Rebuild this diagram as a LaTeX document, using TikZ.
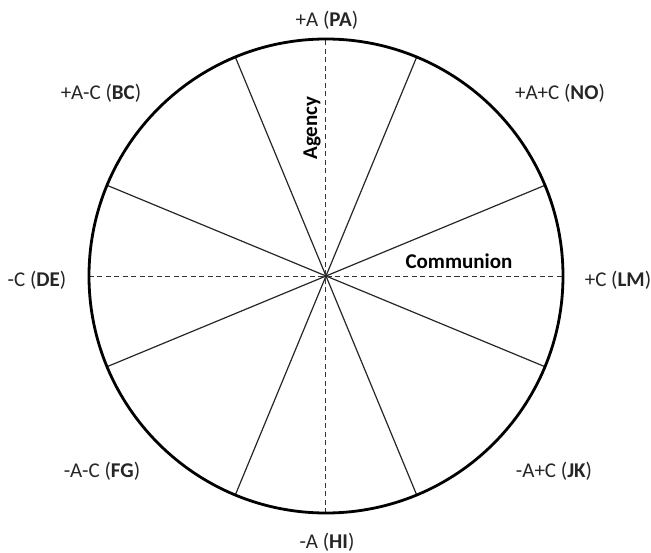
\documentclass[tikz,border=0pt]{standalone}
\usepackage{fontspec}
\setmainfont{Carlito}
\begin{document}
\begin{tikzpicture}[
  x=1pt, y=1pt,
  every node/.style={font=\fontsize{21}{24}\selectfont, text=black!85, inner sep=0pt},
  rim/.style={line width=2.8pt},
  spoke/.style={line width=1.2pt, black!85},
  axisline/.style={line width=1pt, black!80, dash pattern=on 5pt off 3.5pt},
  axislabel/.style={font=\fontsize{21}{24}\selectfont\bfseries, text=black}
]
\useasboundingbox (-326,-276) rectangle (325,276);

%--------------------------------------
% Circle, spokes and axes
%--------------------------------------
\coordinate (O) at (0,0);
\foreach \a in {22.5,67.5,...,337.5}
  \draw[spoke] (O) -- (\a:237);
\draw[axisline] (180:237) -- (0:237);
\draw[axisline] (270:237) -- (90:237);
\draw[rim] (O) circle (237);

% Axis names
\node[axislabel, rotate=90] (agency) at (-14,148) {Agency};
\node[axislabel] (communion) at (133,15) {Communion};

%--------------------------------------
% Octant labels
%--------------------------------------
\node (pa) at (1,256) {+A (\textbf{PA})};
\node (no) at (234,183) {+A+C (\textbf{NO})};
\node (lm) at (292,-4) {+C (\textbf{LM})};
\node (jk) at (228,-195) {-A+C (\textbf{JK})};
\node (hi) at (1,-266) {-A (\textbf{HI})};
\node (fg) at (-224,-195) {-A-C (\textbf{FG})};
\node (de) at (-289,-4) {-C (\textbf{DE})};
\node (bc) at (-225,183) {+A-C (\textbf{BC})};

\end{tikzpicture}
\end{document}
